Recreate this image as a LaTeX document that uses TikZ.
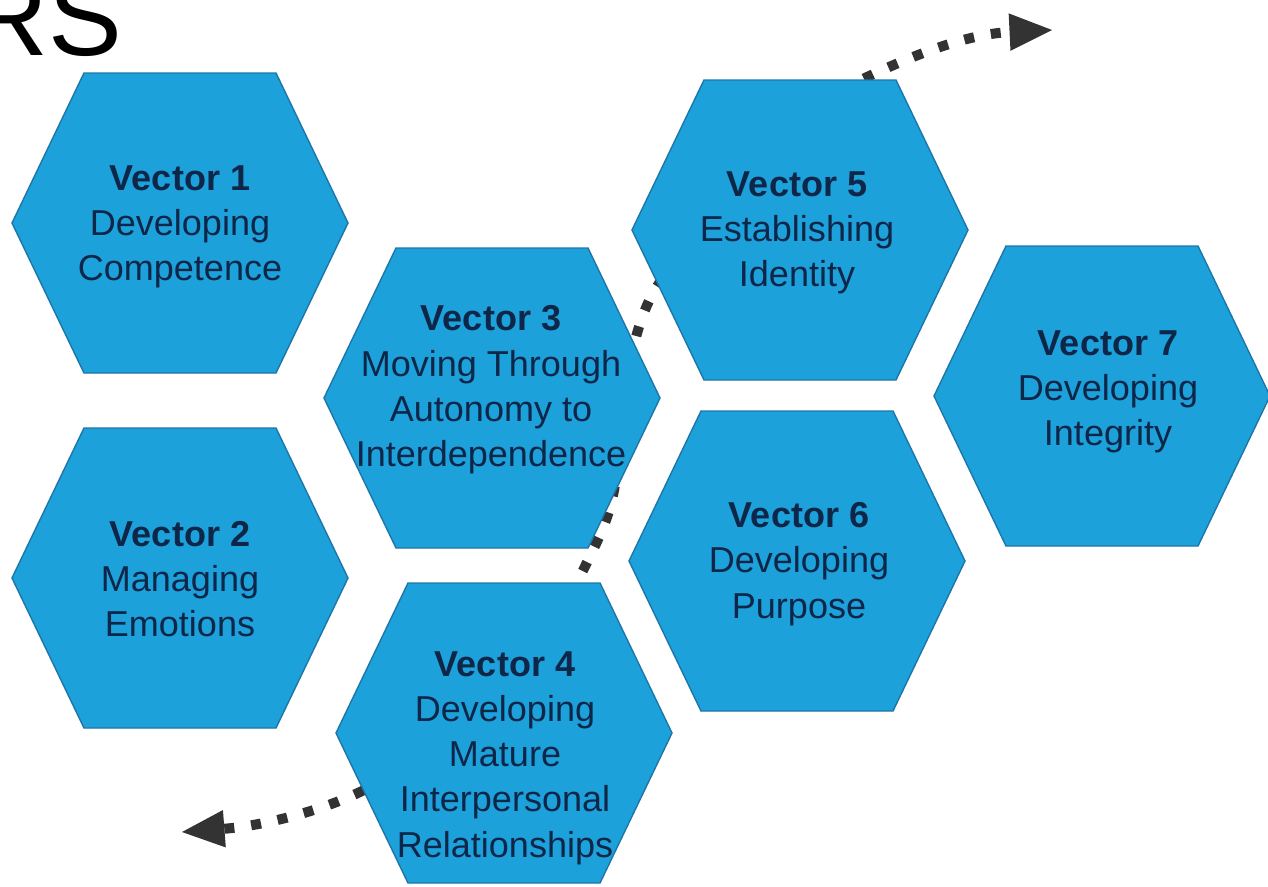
\documentclass[tikz,border=0pt]{standalone}
\usepackage{fontspec}
\setmainfont{Liberation Sans}
\usetikzlibrary{arrows.meta}
\definecolor{hexblue}{RGB}{29,161,219}
\definecolor{hexline}{RGB}{30,118,168}
\definecolor{hextext}{RGB}{14,38,72}
\definecolor{dotgray}{RGB}{51,51,51}

\begin{document}
\begin{tikzpicture}[x=0.02cm, y=-0.02cm,
	every node/.style={text=hextext, align=center, inner sep=0pt, font=\fontsize{20.5}{25.8}\selectfont},
	hexa/.style={insert path={++(-168,0) -- ++(72,-150) -- ++(192,0) -- ++(72,150) -- ++(-72,150) -- ++(-192,0) -- cycle}},
	hexbox/.style={fill=hexblue, draw=hexline, line width=0.8pt},
	dotline/.style={draw=dotgray, line width=0.2cm, dash pattern=on 0.2cm off 0.34cm, arrows={Triangle[length=0.85cm,width=0.75cm,line width=0pt]-Triangle[length=0.85cm,width=0.75cm,line width=0pt]}}]
				\useasboundingbox (0,0) rectangle (1268,886);
				
				\coordinate (left) at (182,832);
				\coordinate (p1) at (364,790);
				\coordinate (p2) at (577,583);
				\coordinate (p3) at (612,500);
				\coordinate (p4) at (634,345);
				\coordinate (p5) at (658,285);
				\coordinate (p6) at (865,78);
				\coordinate (right) at (1052,30);
				
				\draw[dotline] (left) .. controls (260,826) and (320,812) .. (p1)
					.. controls (450,740) and (550,640) .. (p2)
					.. controls (590,555) and (605,530) .. (p3)
					.. controls (625,440) and (625,380) .. (p4)
					.. controls (640,320) and (648,300) .. (p5)
					.. controls (720,180) and (800,110) .. (p6)
					.. controls (920,52) and (970,34) .. (right);
				
				\path[hexbox] (180,223) [hexa];
				\path[hexbox] (180,578) [hexa];
				\path[hexbox] (492,398) [hexa];
				\path[hexbox] (504,733) [hexa];
				\path[hexbox] (800,230) [hexa];
				\path[hexbox] (797,561) [hexa];
				\path[hexbox] (1102,396) [hexa];
				
				\node (title) [anchor=base east, text=black, font=\fontsize{63}{63}\selectfont] at (123,55) {RS};
				
				\node (v1) at (180,227) {\textbf{Vector 1}\\Developing\\Competence};
				\node (v2) at (180,579) {\textbf{Vector 2}\\Managing\\Emotions};
				\node (v3) at (491,390) {\textbf{Vector 3}\\Moving Through\\Autonomy to\\Interdependence};
				\node (v4) at (505,758) {\textbf{Vector 4}\\Developing\\Mature\\Interpersonal\\Relationships};
				\node (v5) at (797,233) {\textbf{Vector 5}\\Establishing\\Identity};
				\node (v6) at (799,564) {\textbf{Vector 6}\\Developing\\Purpose};
				\node (v7) at (1108,392) {\textbf{Vector 7}\\Developing\\Integrity};
\end{tikzpicture}
\end{document}
